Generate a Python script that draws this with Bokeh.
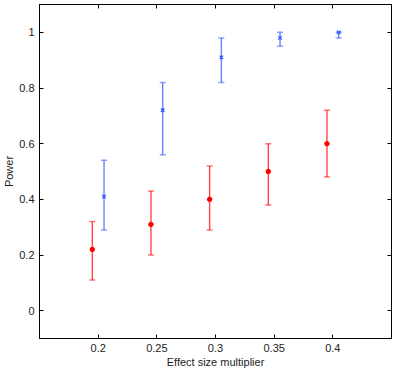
from bokeh.plotting import figure
from bokeh.models import ColumnDataSource, Whisker, TeeHead, LinearAxis, FixedTicker, Range1d, CustomJSTickFormatter
from bokeh.embed import file_html
from bokeh.resources import INLINE

# data
red_x = [0.195, 0.245, 0.295, 0.345, 0.395]
red_y = [0.22, 0.31, 0.40, 0.50, 0.60]
red_lo = [0.11, 0.20, 0.29, 0.38, 0.48]
red_hi = [0.32, 0.43, 0.52, 0.60, 0.72]

blue_x = [0.205, 0.255, 0.305, 0.355, 0.405]
blue_y = [0.41, 0.72, 0.91, 0.98, 1.00]
blue_lo = [0.29, 0.56, 0.82, 0.95, 0.98]
blue_hi = [0.54, 0.82, 0.98, 1.00, 1.00]

x_ticks = [0.2, 0.25, 0.3, 0.35, 0.4]
x_tick_labels = {0.2: "0.2", 0.25: "0.25", 0.3: "0.3", 0.35: "0.35", 0.4: "0.4"}
y_ticks = [0, 0.2, 0.4, 0.6, 0.8, 1.0]
y_tick_labels = {0: "0", 0.2: "0.2", 0.4: "0.4", 0.6: "0.6", 0.8: "0.8", 1.0: "1"}

RED = "#ff1a1a"
BLUE = "#4a62ff"
FONT = "Liberation Sans"

p = figure(width=399, height=371, output_backend="svg", toolbar_location=None,
           x_range=Range1d(0.15, 0.45), y_range=Range1d(-0.1, 1.1),
           min_border_left=39, min_border_right=8, min_border_top=4, min_border_bottom=33,
           x_axis_label="Effect size multiplier", y_axis_label="Power")
p.grid.visible = False
p.outline_line_color = "black"
p.background_fill_color = "white"
p.border_fill_color = "white"

for ax, ticks, labels in ((p.xaxis[0], x_ticks, x_tick_labels), (p.yaxis[0], y_ticks, y_tick_labels)):
    ax.ticker = FixedTicker(ticks=ticks)
    ax.major_label_overrides = labels
    ax.major_tick_in = 4
    ax.major_tick_out = 0
    ax.minor_tick_in = 0
    ax.minor_tick_out = 0
    ax.axis_line_color = "black"
    ax.major_tick_line_color = "black"
    ax.major_label_text_font = FONT
    ax.major_label_text_font_size = "11px"
    ax.major_label_text_color = "#222222"
    ax.axis_label_text_font = FONT
    ax.axis_label_text_font_size = "11px"
    ax.axis_label_text_font_style = "normal"
    ax.axis_label_text_color = "#222222"

p.xaxis[0].major_label_standoff = 5
p.xaxis[0].axis_label_standoff = 1
p.yaxis[0].major_label_standoff = 5
p.yaxis[0].axis_label_standoff = 1

blank = CustomJSTickFormatter(code="return ''")
top = LinearAxis(ticker=FixedTicker(ticks=x_ticks), formatter=blank,
                 major_tick_in=4, major_tick_out=0, minor_tick_in=0, minor_tick_out=0,
                 axis_line_color="black", major_label_standoff=0)
right = LinearAxis(ticker=FixedTicker(ticks=y_ticks), formatter=blank,
                   major_tick_in=4, major_tick_out=0, minor_tick_in=0, minor_tick_out=0,
                   axis_line_color="black", major_label_standoff=0)
p.add_layout(top, "above")
p.add_layout(right, "right")

red_src = ColumnDataSource(dict(x=red_x, y=red_y, lo=red_lo, hi=red_hi))
blue_src = ColumnDataSource(dict(x=blue_x, y=blue_y, lo=blue_lo, hi=blue_hi))

for src, col in ((red_src, RED), (blue_src, BLUE)):
    w = Whisker(source=src, base="x", upper="hi", lower="lo", line_color=col, line_width=1.4,
                line_alpha=0.8,
                upper_head=TeeHead(size=6, line_color=col, line_alpha=0.6, line_width=1.5),
                lower_head=TeeHead(size=6, line_color=col, line_alpha=0.6, line_width=1.5))
    p.add_layout(w)

p.scatter("x", "y", source=red_src, marker="circle", size=4.5, fill_color="#ff0000", line_color="#ff0000")
p.scatter("x", "y", source=blue_src, marker="x", size=5, line_color="#3050ff", line_width=1.2)

open("out.html", "w").write(file_html(p, INLINE))
